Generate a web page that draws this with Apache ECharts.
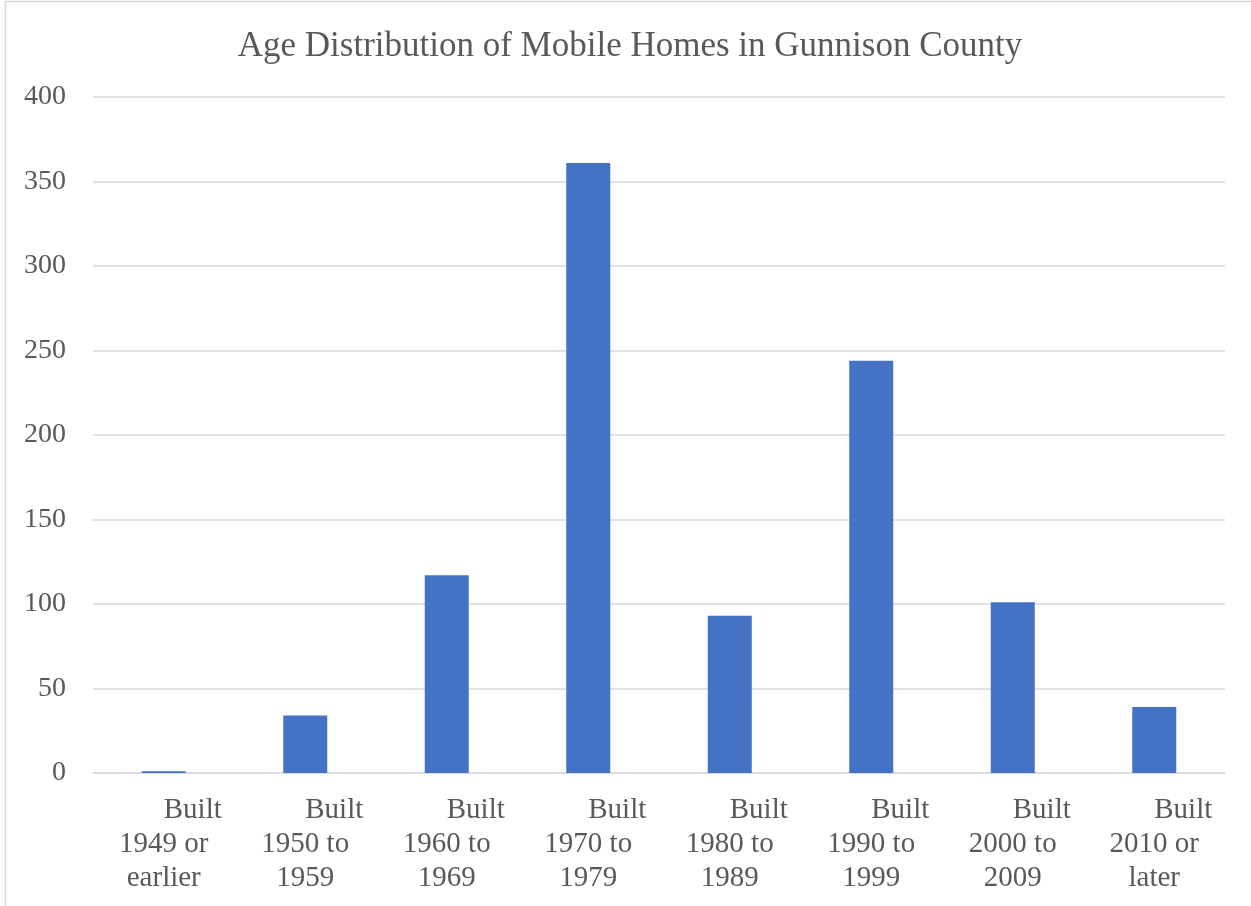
<!DOCTYPE html>
<html>
<head>
<meta charset="utf-8">
<script src="https://cdn.jsdelivr.net/npm/echarts@6/dist/echarts.min.js"></script>
<style>
  html, body { margin: 0; padding: 0; background: #fff; }
  #main { width: 1251px; height: 906px; }
</style>
</head>
<body>
<div id="main"></div>
<script>
  // chart data
  var categories = ['1949 or\nearlier', '1950 to\n1959', '1960 to\n1969', '1970 to\n1979',
                    '1980 to\n1989', '1990 to\n1999', '2000 to\n2009', '2010 or\nlater'];
  var homes = [1, 34, 117, 361, 93, 244, 101, 39];
  var yTicks = { min: 0, max: 400, step: 50 };

  var serif = '"Liberation Serif", "Times New Roman", serif';
  var textColor = '#595959';

  var chart = echarts.init(document.getElementById('main'));
  var option = {
    animation: false,
    title: {
      text: 'Age Distribution of Mobile Homes in Gunnison County',
      left: 625,
      textAlign: 'center',
      top: 24,
      textStyle: { fontFamily: serif, fontSize: 35, fontWeight: 'normal', color: textColor }
    },
    graphic: [{
      type: 'rect',
      shape: { x: 5.5, y: 1.5, width: 1300, height: 960 },
      style: { fill: 'none', stroke: '#d9d9d9', lineWidth: 1.5 },
      silent: true
    }],
    grid: { left: 93, right: 26, top: 97, bottom: 133, containLabel: false },
    xAxis: {
      type: 'category',
      data: categories,
      axisLine: { lineStyle: { color: '#d9d9d9', width: 1.5 } },
      axisTick: { show: false },
      axisLabel: {
        interval: 0,
        margin: 20,
        color: textColor,
        fontFamily: serif,
        fontSize: 29,
        lineHeight: 34,
        formatter: function (v) {
          return '        Built\n' + v;
        }
      }
    },
    yAxis: {
      type: 'value',
      min: yTicks.min,
      max: yTicks.max,
      interval: yTicks.step,
      axisLine: { show: false },
      axisTick: { show: false },
      axisLabel: { margin: 27, color: textColor, fontFamily: serif, fontSize: 28 },
      splitLine: { lineStyle: { color: '#d9d9d9', width: 1.5 } }
    },
    series: [{
      type: 'bar',
      data: homes,
      barWidth: 44,
      itemStyle: { color: '#4472C4' }
    }]
  };
  chart.setOption(option);
</script>
</body>
</html>
